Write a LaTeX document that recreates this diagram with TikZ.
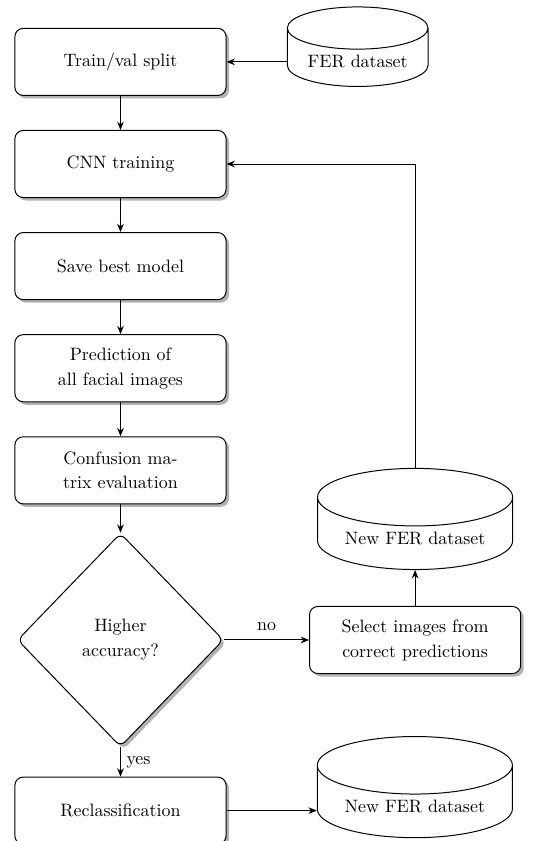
\documentclass[tikz,border=0pt]{standalone}
\usepackage{tikz}
\usetikzlibrary{arrows.meta,positioning,shapes.geometric,shadows}

\begin{document}
\begin{tikzpicture}[
      font=\fontsize{10.8}{15}\selectfont,
      node distance=0.72cm,
      line width=0.6pt,
      arr/.style={draw, -{Stealth[length=5pt,width=4pt]}},
      shade box/.style={drop shadow={shadow xshift=1.8pt, shadow yshift=-1.8pt, fill=black!30, opacity=1}},
      box/.style={
          rectangle, draw, rounded corners=5pt,
          align=center, fill=white, shade box,
          text width=4cm,
          minimum width=4.47cm,
          minimum height=1.42cm
        },
      decision/.style={
          diamond, draw, rounded corners=4pt,
          align=center, fill=white, shade box,
          minimum width=4.36cm, minimum height=4.52cm,
          inner sep=0pt
        },
      dataset/.style={
          cylinder, shape border rotate=90, draw, fill=white,
          aspect=0.38, align=center,
          minimum width=4.13cm
        },
    ]
    \useasboundingbox (0,0) rectangle (11.45,-17.80);

    % main column
    \node[box] (split) at (2.55,-1.31) {Train/val split};
    \node[box, below=of split] (cnn) {CNN training};
    \node[box, below=of cnn] (save) {Save best model};
    \node[box, below=of save] (pred) {Prediction of\\all facial images};
    \node[box, below=of pred] (conf) {Confusion ma-\\trix evaluation};
    \node[decision, below=0.6cm of conf] (acc) {Higher\\accuracy?};
    \node[box, below=0.62cm of acc] (recl) {Reclassification};

    % right side
    \node[box, right=1.8cm of acc] (sel) {Select images from\\correct predictions};
    \node[dataset, minimum width=2.98cm, minimum height=1.44cm, anchor=south] (fer) at (7.57,-1.84) {FER dataset};
    \node[dataset, minimum height=1.69cm, above=0.76cm of sel] (newfer) {New FER dataset};
    \node[dataset, minimum height=1.76cm, anchor=south] (newfer2) at (8.78,-17.74) {New FER dataset};

    \draw[arr] (fer.west |- split) -- (split);
    \draw[arr] (split) -- (cnn);
    \draw[arr] (cnn) -- (save);
    \draw[arr] (save) -- (pred);
    \draw[arr] (pred) -- (conf);
    \draw[arr] (conf) -- (acc);
    \draw[arr] (acc) -- node[above=2pt]{no} (sel);
    \draw[arr] (acc) -- node[right]{yes} (recl);
    \draw[arr] (sel) -- (newfer);
    \draw[arr] (newfer) |- (cnn);
    \draw[arr] (recl.east) -- (recl.east -| newfer2.west);
  \end{tikzpicture}
\end{document}
